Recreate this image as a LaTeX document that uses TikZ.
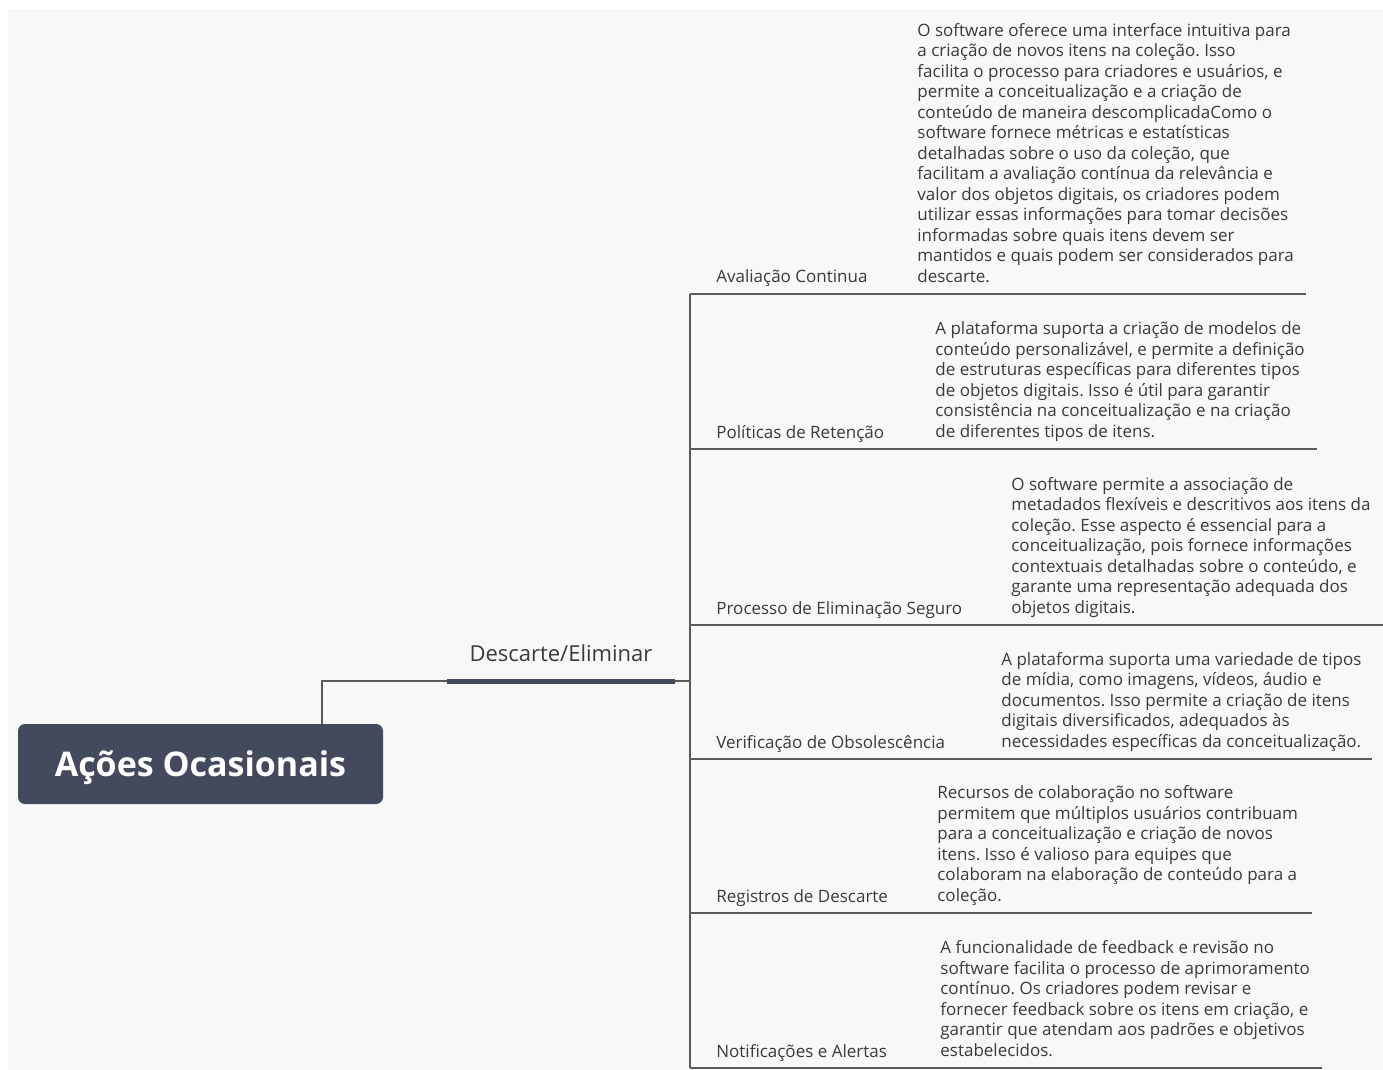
\documentclass[tikz,border=0pt]{standalone}
\usepackage{fontspec}
\setmainfont{Open Sans}
\usetikzlibrary{positioning, calc}

\definecolor{slate}{HTML}{434A5E}
\definecolor{inkgray}{HTML}{3A3A3A}
\definecolor{linegray}{HTML}{5A5A5A}
\definecolor{paper}{HTML}{F9F8F9}

\frenchspacing
\begin{document}
\begin{tikzpicture}[
  x=0.5pt, y=-0.5pt,
  font=\fontsize{8.5}{10.25}\selectfont,
  text=inkgray,
  root/.style={fill=slate, rounded corners=3.5pt, minimum width=182.5pt,
               minimum height=40pt, text=white, text height=12.1pt, text depth=0pt,
               font=\fontsize{17}{20}\selectfont\bfseries},
  topic/.style={anchor=base, inner sep=0pt, font=\fontsize{11}{13}\selectfont},
  lbl/.style={anchor=base west, inner sep=0pt},
  desc/.style={anchor=south west, inner sep=0pt, align=left},
  bar/.style={draw=slate, line width=2.5pt},
  link/.style={draw=linegray, line width=0.6pt},
]

% page and background
\useasboundingbox (0,0) rectangle (1383,1070);
\fill[white] (0,0) rectangle (1383,1070);
\fill[paper] (8,9) rectangle (1383,1070);

\node[root] (root) at (200.5,764) {Ações Ocasionais};
\node[topic] (topic) at (561,661) {Descarte/Eliminar};

\coordinate (barL) at (447,681);
\coordinate (barR) at (675,681);
\coordinate (spine) at (690,681);
\coordinate (spineTop) at (690,294);
\coordinate (spineBot) at (690,1068);

\draw[link] ([xshift=60.75pt]root.north) |- (barL);
\draw[bar] (barL) -- (barR);
\draw[link] (barR) -- (spine);
\draw[link] (spineTop) -- (spineBot);

% Avaliação Continua
\coordinate (u1) at (690,294);
\node[lbl] (l1) at (716,283) {Avaliação Continua};
\node[desc] (d1) at (917,289) {O software oferece uma interface intuitiva para\\
  a criação de novos itens na coleção. Isso\\
  facilita o processo para criadores e usuários, e\\
  permite a conceitualização e a criação de\\
  conteúdo de maneira descomplicadaComo o\\
  software fornece métricas e estatísticas\\
  detalhadas sobre o uso da coleção, que\\
  facilitam a avaliação contínua da relevância e\\
  valor dos objetos digitais, os criadores podem\\
  utilizar essas informações para tomar decisões\\
  informadas sobre quais itens devem ser\\
  mantidos e quais podem ser considerados para\\
  descarte.\strut};
\draw[link] (u1) -- ($(d1.east |- u1)+(12,0)$);

% Políticas de Retenção
\coordinate (u2) at (690,449);
\node[lbl] (l2) at (716,438) {Políticas de Retenção};
\node[desc] (d2) at (935,444) {A plataforma suporta a criação de modelos de\\
  conteúdo personalizável, e permite a definição\\
  de estruturas específicas para diferentes tipos\\
  de objetos digitais. Isso é útil para garantir\\
  consistência na conceitualização e na criação\\
  de diferentes tipos de itens.\strut};
\draw[link] (u2) -- ($(d2.east |- u2)+(12,0)$);

% Processo de Eliminação Seguro
\coordinate (u3) at (690,625);
\node[lbl] (l3) at (716,614) {Processo de Eliminação Seguro};
\node[desc] (d3) at (1011,620) {O software permite a associação de\\
  metadados flexíveis e descritivos aos itens da\\
  coleção. Esse aspecto é essencial para a\\
  conceitualização, pois fornece informações\\
  contextuais detalhadas sobre o conteúdo, e\\
  garante uma representação adequada dos\\
  objetos digitais.\strut};
\draw[link] (u3) -- ($(d3.east |- u3)+(12,0)$);

% Verificação de Obsolescência
\coordinate (u4) at (690,759);
\node[lbl] (l4) at (716,748) {Verificação de Obsolescência};
\node[desc] (d4) at (1001,754) {A plataforma suporta uma variedade de tipos\\
  de mídia, como imagens, vídeos, áudio e\\
  documentos. Isso permite a criação de itens\\
  digitais diversificados, adequados às\\
  necessidades específicas da conceitualização.\strut};
\draw[link] (u4) -- ($(d4.east |- u4)+(10,0)$);

% Registros de Descarte
\coordinate (u5) at (690,913);
\node[lbl] (l5) at (716,902) {Registros de Descarte};
\node[desc] (d5) at (937,908) {Recursos de colaboração no software\\
  permitem que múltiplos usuários contribuam\\
  para a conceitualização e criação de novos\\
  itens. Isso é valioso para equipes que\\
  colaboram na elaboração de conteúdo para a\\
  coleção.\strut};
\draw[link] (u5) -- ($(d5.east |- u5)+(14,0)$);

% Notificações e Alertas
\coordinate (u6) at (690,1068);
\node[lbl] (l6) at (716,1057) {Notificações e Alertas};
\node[desc] (d6) at (940,1063) {A funcionalidade de feedback e revisão no\\
  software facilita o processo de aprimoramento\\
  contínuo. Os criadores podem revisar e\\
  fornecer feedback sobre os itens em criação, e\\
  garantir que atendam aos padrões e objetivos\\
  estabelecidos.\strut};
\draw[link] (u6) -- ($(d6.east |- u6)+(12,0)$);

\end{tikzpicture}
\end{document}
